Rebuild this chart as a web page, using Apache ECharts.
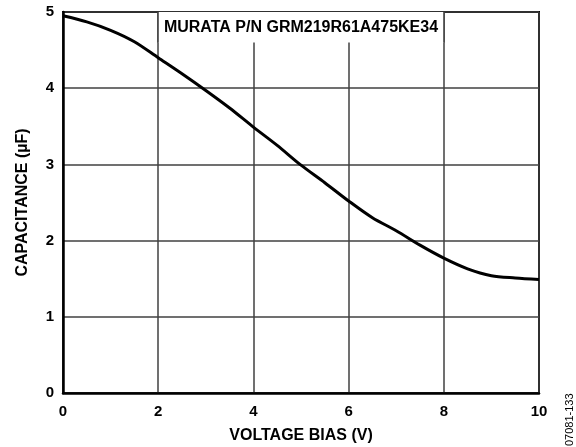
<!DOCTYPE html>
<html>
<head>
<meta charset="utf-8">
<script src="https://cdn.jsdelivr.net/npm/echarts@6/dist/echarts.min.js"></script>
<style>
html,body{margin:0;padding:0;background:#fff;}
#chart{width:576px;height:447px;}
</style>
</head>
<body>
<div id="chart"></div>
<script>
// bias voltage (V) vs capacitance (uF)
const biasV = [0, 0.5, 1, 1.5, 2, 2.5, 3, 3.5, 4, 4.5, 5, 5.5, 6, 6.5, 7, 7.5, 8, 8.5, 9, 9.5, 10]
const capUF = [4.95, 4.87, 4.76, 4.61, 4.40, 4.19, 3.97, 3.74, 3.49, 3.25, 2.99, 2.76, 2.52, 2.30, 2.13, 1.94, 1.77, 1.63, 1.54, 1.51, 1.49]
const xTicks = [0, 2, 4, 6, 8, 10]
const yTicks = [0, 1, 2, 3, 4, 5]
const partName = 'MURATA P/N GRM219R61A475KE34'
// label box spans x 2..8, y 4.6..5
const boxX = [2, 8]
const boxY = [4.6, 5]

const font = 'Liberation Sans, Arial, sans-serif'
const gridLine = {show:true, lineStyle:{color:'#404040', width:1.5}}

const chart = echarts.init(document.getElementById('chart'))
chart.setOption({
  animation:false,
  grid:{
    left:63, right:37, top:12, bottom:54,
    outerBoundsMode:'none',
    show:true, borderColor:'#000', borderWidth:2
  },
  xAxis:{
    type:'value',
    min:xTicks[0], max:xTicks[xTicks.length-1], interval:2,
    name:'VOLTAGE BIAS (V)', nameLocation:'middle', nameGap:35,
    nameTextStyle:{fontFamily:font, fontWeight:'bold', fontSize:16, color:'#000'},
    axisLine:{show:true, onZero:false, lineStyle:{color:'#000', width:2.5}},
    axisTick:{show:false},
    splitLine:gridLine,
    axisLabel:{margin:11, fontFamily:font, fontWeight:'bold', fontSize:15, color:'#000'}
  },
  yAxis:{
    type:'value',
    min:yTicks[0], max:yTicks[yTicks.length-1], interval:1,
    name:'CAPACITANCE (µF)', nameLocation:'middle', nameGap:32, nameRotate:90,
    nameTextStyle:{fontFamily:font, fontWeight:'bold', fontSize:16, color:'#000'},
    axisLine:{show:true, onZero:false, lineStyle:{color:'#000', width:2.5}},
    axisTick:{show:false},
    splitLine:gridLine,
    axisLabel:{margin:9, fontFamily:font, fontWeight:'bold', fontSize:15, color:'#000'}
  },
  series:[{
    type:'line',
    data:biasV.map((v,i)=>[v, capUF[i]]),
    showSymbol:false,
    smooth:0.3,
    lineStyle:{color:'#000', width:3},
    markArea:{
      silent:true,
      itemStyle:{color:'#fff'},
      label:{
        show:true, position:'inside', formatter:partName,
        fontFamily:font, fontWeight:'bold', fontSize:16, color:'#000'
      },
      data:[[{coord:[boxX[0], boxY[0]]}, {coord:[boxX[1], boxY[1]]}]]
    },
    markLine:{
      silent:true, symbol:'none', label:{show:false},
      lineStyle:{color:'#404040', width:1.5, type:'solid'},
      data:[
        [{coord:[boxX[0], boxY[0]]}, {coord:[boxX[0], boxY[1]]}],
        [{coord:[boxX[1], boxY[0]]}, {coord:[boxX[1], boxY[1]]}]
      ]
    }
  }],
  graphic:[{
    type:'text', x:570, y:446, rotation:Math.PI/2,
    style:{text:'07081-133', font:'11px ' + font, fill:'#000', verticalAlign:'middle', align:'left'}
  }]
})
</script>
</body>
</html>
